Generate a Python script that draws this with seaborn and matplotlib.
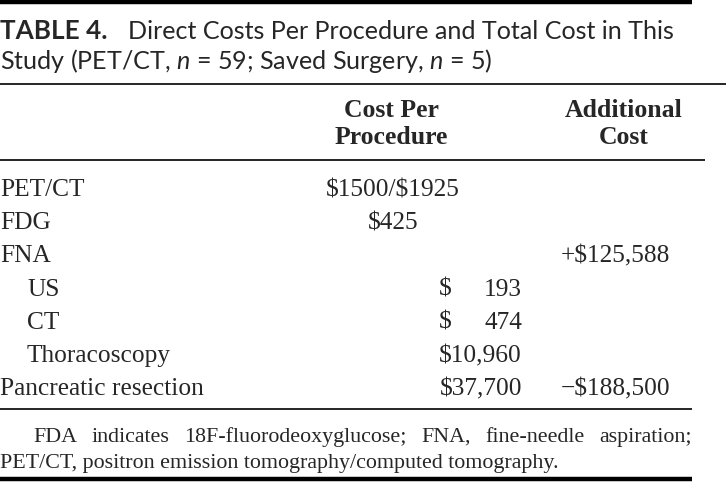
import numpy as np
import pandas as pd
import seaborn as sns
import matplotlib.pyplot as plt

# Set Style
sns.set_theme(style="white")
plt.rcParams['font.family'] = ['Liberation Serif', 'DejaVu Serif']
plt.rcParams['mathtext.fontset'] = 'custom'
plt.rcParams['mathtext.it'] = 'Lato:italic'
plt.rcParams['mathtext.rm'] = 'Lato'

# Table content
table_label = 'TABLE 4.'
title_line1 = 'Direct Costs Per Procedure and Total Cost in This'
title_line2 = 'Study (PET/CT, $n$ = 59; Saved Surgery, $n$ = 5)'
header_cost = ['Cost Per', 'Procedure']
header_add = ['Additional', 'Cost']
procedures = ['PET/CT', 'FDG', 'FNA', 'US', 'CT', 'Thoracoscopy', 'Pancreatic resection']
sub_item = [False, False, False, True, True, True, False]
cost_per = ['$1500/$1925', '$425', '', '$193', '$474', '$10,960', '$37,700']
additional = ['', '', '+$125,588', '', '', '', '−$188,500']
footnote_1 = 'FDA indicates 18F-fluorodeoxyglucose; FNA, fine-needle aspiration;'
footnote_2 = 'PET/CT, positron emission tomography/computed tomography.'

df = pd.DataFrame({'procedure': procedures, 'sub': sub_item,
                   'cost': cost_per, 'additional': additional})

# Figure (pixel coordinates, y downwards)
fig = plt.figure(figsize=(7.26, 4.82), dpi=100)
ax = fig.add_axes([0, 0, 1, 1])
ax.set_xlim(0, 726)
ax.set_ylim(482, 0)
ax.axis('off')
sns.despine(ax=ax, left=True, bottom=True)
renderer = fig.canvas.get_renderer()


def width(t):
    return t.get_window_extent(renderer).width


def left(t):
    bb = t.get_window_extent(renderer)
    return ax.transData.inverted().transform((bb.x0, bb.y0))[0]


def esc(s):
    return s.replace('$', r'\$')


# Rules
ax.hlines(2, 0, 692, color='black', lw=3.2)
ax.hlines(84, 0, 726, color='black', lw=1.2)
ax.hlines(160, 0, 705, color='black', lw=1.2)
ax.hlines(409, 0, 692, color='black', lw=1.2)
ax.hlines(479, 0, 692, color='black', lw=3.2)

# Title
sans = 'Lato'
ax.text(0, 39, table_label, family=sans, weight='bold', fontsize=18.8, va='baseline')
ax.text(128, 39, title_line1, family=sans, fontsize=18.1, va='baseline')
ax.text(0, 69, title_line2, family=sans, fontsize=18.1, va='baseline')

# Header
hsize = 18.5
for i, (a, b) in enumerate(zip(header_cost, header_add)):
    y = 117 + i * 27
    ax.text(391, y, a, ha='center', va='baseline', weight='bold', fontsize=hsize)
    ax.text(624, y, b, ha='center', va='baseline', weight='bold', fontsize=hsize)

# Body rows
bsize = 18.3
row_y = 196
step = 33.2
num_right = 522
dollar_x = None
short_rows = []
for i, r in df.iterrows():
    y = row_y + i * step
    x0 = 27 if r['sub'] else 0
    ax.text(x0, y, r['procedure'], va='baseline', fontsize=bsize)
    c = r['cost']
    if c:
        if i < 2:
            ax.text(393, y, esc(c), ha='center', va='baseline', fontsize=bsize)
        elif ',' in c:
            t = ax.text(num_right, y, esc(c), ha='right', va='baseline', fontsize=bsize)
            dollar_x = left(t) if dollar_x is None else min(dollar_x, left(t))
        else:
            short_rows.append((y, c))
    if r['additional']:
        ax.text(670, y, esc(r['additional']), ha='right', va='baseline', fontsize=bsize)

for y, c in short_rows:
    ax.text(dollar_x, y, r'\$', ha='left', va='baseline', fontsize=bsize)
    ax.text(num_right, y, c.lstrip('$'), ha='right', va='baseline', fontsize=bsize)

# Footnote (first line justified)
fsize = 15.8
words = footnote_1.split(' ')
texts = [ax.text(0, 442, w, va='baseline', fontsize=fsize) for w in words]
ws = [width(t) for t in texts]
gap = (692 - 33 - sum(ws)) / (len(words) - 1)
x = 33
for t, w in zip(texts, ws):
    t.set_x(x)
    x += w + gap
ax.text(0, 468, footnote_2, va='baseline', fontsize=fsize)

fig.savefig('out.png', dpi=100)
